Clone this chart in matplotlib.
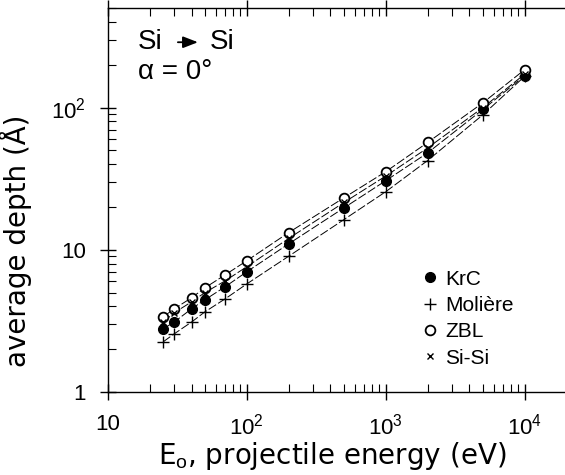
import matplotlib.pyplot as plt
from matplotlib.ticker import LogLocator, FixedLocator, NullFormatter

plt.rcParams['font.family'] = ['Liberation Sans', 'DejaVu Sans']
plt.rcParams['mathtext.fontset'] = 'custom'
plt.rcParams['mathtext.rm'] = 'Liberation Sans'
plt.rcParams['mathtext.it'] = 'Liberation Sans'

# projectile energies (eV)
energy = [25, 30, 40, 50, 70, 100, 200, 500, 1000, 2000, 5000, 10000]
# average depth (Angstrom) for each potential
krc = [2.78, 3.1, 3.84, 4.45, 5.5, 7.0, 11.0, 19.7, 30.6, 48, 97, 168]
moliere = [2.25, 2.56, 3.1, 3.66, 4.52, 5.75, 9.0, 16.3, 25.6, 42.4, 89, 166]
zbl = [3.37, 3.84, 4.59, 5.4, 6.67, 8.37, 13.2, 23.2, 35.4, 56.8, 108, 185]
sisi = [3.1, 3.6, 4.3, 5.0, 6.05, 7.6, 12.0, 21.5, 33, 52, 100, 172]

fig = plt.figure(figsize=(5.65, 4.75), dpi=100)
ax = fig.add_axes([0.191, 0.175, 0.809, 0.808])

dash = (0, (9, 2.5))
for series in [zbl, sisi, krc, moliere]:
    ax.plot(energy, series, color='black', lw=0.7, linestyle=dash)

ax.plot(energy, krc, 'o', color='black', ms=7, label='KrC', ls='none')
ax.plot(energy, moliere, '+', color='black', ms=8, mew=1.0, label='Molière', ls='none')
ax.plot(energy, zbl, 'o', mfc='white', mec='black', mew=1.3, ms=7, label='ZBL', ls='none')
ax.plot(energy, sisi, 'x', color='black', ms=4, mew=1.0, label='Si-Si', ls='none')

ax.set_xscale('log')
ax.set_yscale('log')
ax.set_xlim(10, 10 ** 4.29)
ax.set_ylim(1, 10 ** 2.7)

ax.xaxis.set_major_locator(FixedLocator([10, 100, 1000, 10000]))
ax.set_xticklabels(['10', '10$^2$', '10$^3$', '10$^4$'])
ax.yaxis.set_major_locator(FixedLocator([1, 10, 100]))
ax.set_yticklabels(['1', '10', '10$^2$'])
ax.xaxis.set_minor_locator(LogLocator(base=10, subs=range(2, 10)))
ax.yaxis.set_minor_locator(LogLocator(base=10, subs=range(2, 10)))
ax.xaxis.set_minor_formatter(NullFormatter())
ax.yaxis.set_minor_formatter(NullFormatter())

ax.tick_params(which='major', direction='inout', length=12, width=1.0, labelsize=16, pad=10)
ax.tick_params(which='minor', direction='in', length=6, width=0.8)
ax.tick_params(top=True, which='both')

ax.spines['right'].set_visible(False)
for s in ['left', 'bottom', 'top']:
    ax.spines[s].set_linewidth(1.0)

label_font = dict(family='DejaVu Sans', size=20)
ax.set_xlabel('E$_\\mathrm{o}$, projectile energy (eV)', fontdict=label_font)
ax.set_ylabel('average depth (Å)', fontdict=label_font)
ax.xaxis.set_label_coords(0.49, -0.125)
ax.yaxis.set_label_coords(-0.165, 0.393)

# title annotation: Si -> Si, alpha = 0
ax.text(0.066, 0.911, 'Si', transform=ax.transAxes, fontsize=20, va='center', ha='left')
ax.annotate('', xy=(0.203, 0.911), xytext=(0.147, 0.911), xycoords='axes fraction',
            arrowprops=dict(arrowstyle='-|>,head_length=0.9,head_width=0.35', color='black', lw=1.3))
ax.text(0.223, 0.911, 'Si', transform=ax.transAxes, fontsize=20, va='center', ha='left')
ax.text(0.066, 0.833, 'α = 0°', transform=ax.transAxes, fontsize=20, va='center', ha='left')

ax.legend(loc='upper left', bbox_to_anchor=(0.66, 0.34), frameon=False, fontsize=15,
          handletextpad=0.1, handlelength=1.2, labelspacing=0.35, borderaxespad=0)

fig.savefig('out.png', dpi=100)
